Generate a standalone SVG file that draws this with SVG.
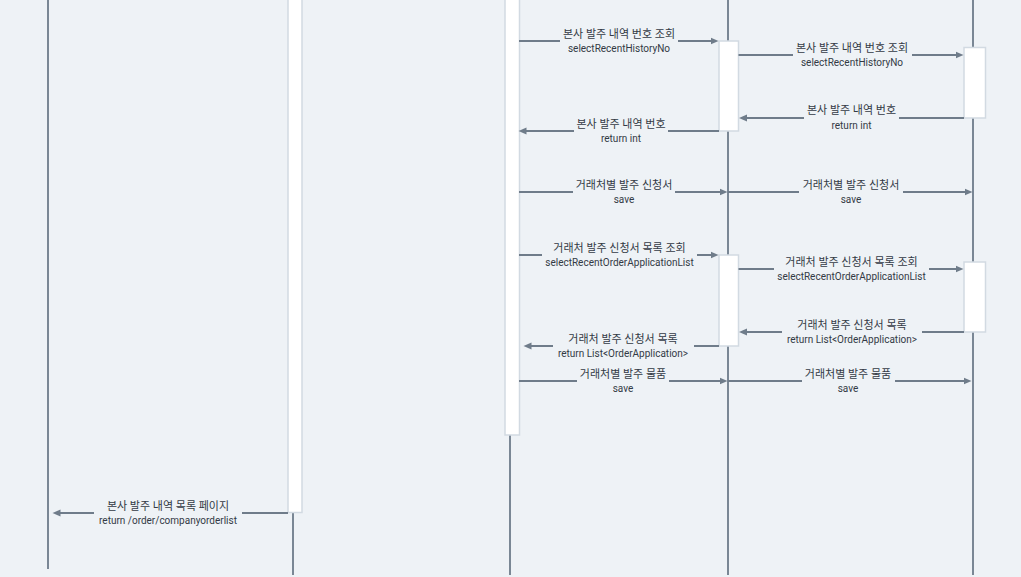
<svg xmlns="http://www.w3.org/2000/svg" width="1021" height="577" viewBox="0 0 1021 577">
<defs>
<marker id="ah" markerUnits="userSpaceOnUse" markerWidth="9" markerHeight="8" refX="0.5" refY="4" orient="auto">
<path d="M0,0.5 L8,4 L0,7.5 z" fill="#6f7c8a"/>
</marker>
<style>
.bg{fill:#eef2f6}
.life{stroke:#7a8795;stroke-width:2;fill:none}
.act{fill:#ffffff;stroke:#d2dae2;stroke-width:1.5}
.msg{stroke:#6f7c8a;stroke-width:2;fill:none;marker-end:url(#ah)}
.t1{font-family:Roboto,"Noto Sans CJK KR",sans-serif;font-size:11px;fill:#333a45;text-anchor:middle}
.t2{font-family:Roboto,"Noto Sans CJK KR",sans-serif;font-size:10px;fill:#333a45;text-anchor:middle}
</style>
</defs>
<rect class="bg" x="0" y="0" width="1021" height="577"/>
<g id="lifeline-1"><line class="life" x1="48" y1="0" x2="48" y2="569"/></g>
<g id="lifeline-2"><line class="life" x1="293" y1="0" x2="293" y2="575"/><rect class="act" x="288" y="-5" width="14" height="517.5"/></g>
<g id="lifeline-3"><line class="life" x1="510" y1="0" x2="510" y2="575"/><rect class="act" x="505" y="-5" width="14.5" height="440"/></g>
<g id="lifeline-4"><line class="life" x1="728" y1="0" x2="728" y2="575"/><rect class="act" x="719" y="41" width="19.5" height="90"/><rect class="act" x="719" y="255" width="19.5" height="91"/></g>
<g id="lifeline-5"><line class="life" x1="973" y1="0" x2="973" y2="575"/><rect class="act" x="964" y="47.5" width="21.5" height="70.5"/><rect class="act" x="964" y="262" width="21.5" height="70"/></g>
<g id="connectors">
<path class="msg" d="M519,41 H560 M678,41 H711"/>
<path class="msg" d="M738.5,55 H793 M912,55 H956"/>
<path class="msg" d="M964,118 H899 M804,118 H746.5"/>
<path class="msg" d="M719,131 H668 M574,131 H526"/>
<path class="msg" d="M519,192 H573 M675,192 H720"/>
<path class="msg" d="M728,192 H799 M903,192 H965"/>
<path class="msg" d="M519,255 H542 M697,255 H711"/>
<path class="msg" d="M738.5,269 H774 M929,269 H956"/>
<path class="msg" d="M964,332 H922 M782,332 H746.5"/>
<path class="msg" d="M719,346 H694 M553,346 H531"/>
<path class="msg" d="M519,381 H577 M669,381 H720"/>
<path class="msg" d="M728,381 H802 M895,381 H964"/>
<path class="msg" d="M288,513 H242 M94,513 H60"/>
</g>
<g id="labels">
<text class="t1" x="619" y="38">본사 발주 내역 번호 조회</text><text class="t2" x="619" y="52">selectRecentHistoryNo</text>
<text class="t1" x="852" y="52">본사 발주 내역 번호 조회</text><text class="t2" x="852" y="66">selectRecentHistoryNo</text>
<text class="t1" x="851.5" y="114">본사 발주 내역 번호</text><text class="t2" x="851.5" y="129">return int</text>
<text class="t1" x="621" y="127.5">본사 발주 내역 번호</text><text class="t2" x="621" y="142">return int</text>
<text class="t1" x="624" y="188.5">거래처별 발주 신청서</text><text class="t2" x="624" y="203">save</text>
<text class="t1" x="851" y="188.5">거래처별 발주 신청서</text><text class="t2" x="851" y="203">save</text>
<text class="t1" x="619.5" y="251.5">거래처 발주 신청서 목록 조회</text><text class="t2" x="619.5" y="266">selectRecentOrderApplicationList</text>
<text class="t1" x="851.5" y="265.5">거래처 발주 신청서 목록 조회</text><text class="t2" x="851.5" y="280">selectRecentOrderApplicationList</text>
<text class="t1" x="852" y="328.5">거래처 발주 신청서 목록</text><text class="t2" x="852" y="343">return List&lt;OrderApplication&gt;</text>
<text class="t1" x="623" y="342.5">거래처 발주 신청서 목록</text><text class="t2" x="623" y="357">return List&lt;OrderApplication&gt;</text>
<text class="t1" x="623" y="377.5">거래처별 발주 물품</text><text class="t2" x="623" y="392">save</text>
<text class="t1" x="848" y="377.5">거래처별 발주 물품</text><text class="t2" x="848" y="392">save</text>
<text class="t1" x="168" y="509.5">본사 발주 내역 목록 페이지</text><text class="t2" x="168" y="524">return /order/companyorderlist</text>
</g>
</svg>
